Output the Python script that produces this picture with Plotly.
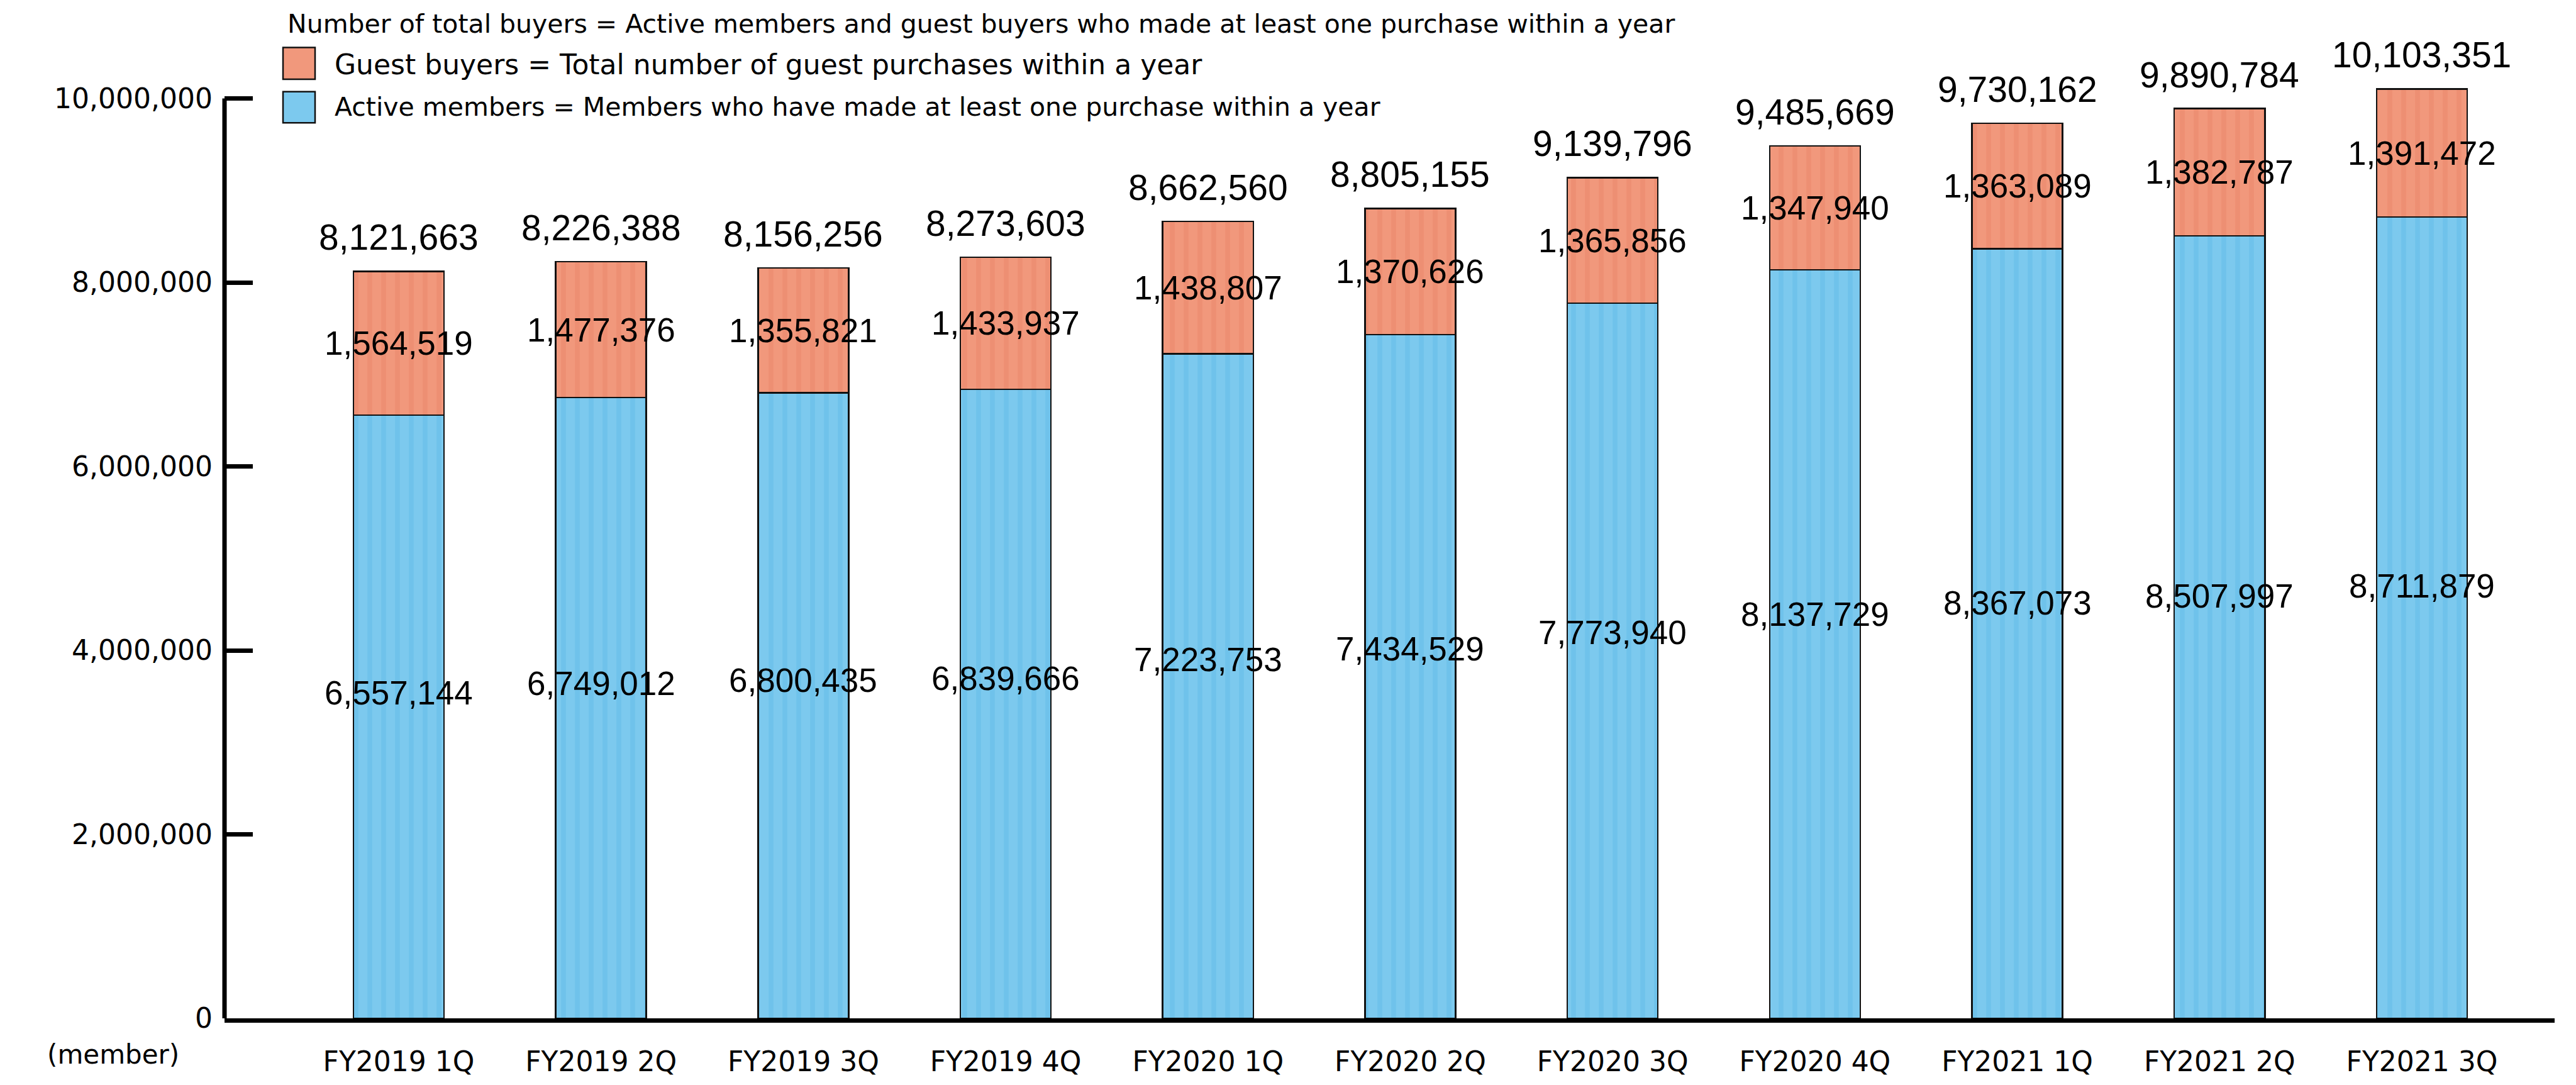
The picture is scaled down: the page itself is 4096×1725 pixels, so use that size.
import plotly.graph_objects as go

# Quarterly buyer counts (members)
quarters = [
    "FY2019 1Q", "FY2019 2Q", "FY2019 3Q", "FY2019 4Q",
    "FY2020 1Q", "FY2020 2Q", "FY2020 3Q", "FY2020 4Q",
    "FY2021 1Q", "FY2021 2Q", "FY2021 3Q",
]
active_members = [6557144, 6749012, 6800435, 6839666, 7223753, 7434529,
                  7773940, 8137729, 8367073, 8507997, 8711879]
guest_buyers = [1564519, 1477376, 1355821, 1433937, 1438807, 1370626,
                1365856, 1347940, 1363089, 1382787, 1391472]
total_buyers = [8121663, 8226388, 8156256, 8273603, 8662560, 8805155,
                9139796, 9485669, 9730162, 9890784, 10103351]
y_ticks = [0, 2000000, 4000000, 6000000, 8000000, 10000000]
axis_top = 10000000

legend_title = "Number of total buyers = Active members and guest buyers who made at least one purchase within a year"
legend_guest = "Guest buyers = Total number of guest purchases within a year"
legend_active = "Active members = Members who have made at least one purchase within a year"
unit_label = "(member)"

# Layout geometry (pixels)
W, H = 4096, 1725
M_L, M_R, M_T, M_B = 357, 34, 40, 87
PLOT_W = W - M_L - M_R
PLOT_H = H - M_T - M_B
Y_MAX = PLOT_H / 148 * 1e6  # ~148 px per million

BLUE = "#7cc9ee"
BLUE_STREAK = "#4fb3e3"
ORANGE = "#f1987c"
ORANGE_STREAK = "#e57a5c"
INK = "#111111"
NUM_FONT = "Liberation Sans, Arial, sans-serif"
TXT_FONT = "DejaVu Sans, sans-serif"


def px_x(x):
    return (x - M_L) / PLOT_W


def px_y(y):
    return (H - M_B - y) / PLOT_H


fig = go.Figure()

fig.add_trace(go.Bar(
    x=quarters, y=active_members, name="Active members",
    marker=dict(color=BLUE, line=dict(color=INK, width=2.5),
                pattern=dict(shape="|", fillmode="overlay", fgcolor=BLUE_STREAK,
                             fgopacity=0.3, size=22, solidity=0.35)),
    showlegend=False, hoverinfo="skip",
))
fig.add_trace(go.Bar(
    x=quarters, y=guest_buyers, name="Guest buyers",
    marker=dict(color=ORANGE, line=dict(color=INK, width=2.5),
                pattern=dict(shape="|", fillmode="overlay", fgcolor=ORANGE_STREAK,
                             fgopacity=0.3, size=22, solidity=0.35)),
    showlegend=False, hoverinfo="skip",
))

annotations = []
for q, a, g, t in zip(quarters, active_members, guest_buyers, total_buyers):
    # total above the stack
    annotations.append(dict(x=q, y=t, xref="x", yref="y", text=f"{t:,}",
                            showarrow=False, yanchor="bottom", yshift=20,
                            font=dict(family=NUM_FONT, size=57, color="black")))
    # guest count centred in its segment
    annotations.append(dict(x=q, y=a + g / 2, xref="x", yref="y", text=f"{g:,}",
                            showarrow=False, yanchor="middle",
                            font=dict(family=NUM_FONT, size=53, color="black")))
    # active count a little above the segment's midpoint
    annotations.append(dict(x=q, y=a * 0.54, xref="x", yref="y", text=f"{a:,}",
                            showarrow=False, yanchor="middle",
                            font=dict(family=NUM_FONT, size=53, color="black")))

# legend block
annotations.append(dict(x=px_x(455), y=px_y(38), xref="paper", yref="paper",
                        text=legend_title, showarrow=False, xanchor="left", yanchor="middle",
                        font=dict(family=TXT_FONT, size=41, color="black")))
annotations.append(dict(x=px_x(530), y=px_y(103), xref="paper", yref="paper",
                        text=legend_guest, showarrow=False, xanchor="left", yanchor="middle",
                        font=dict(family=TXT_FONT, size=44, color="black")))
annotations.append(dict(x=px_x(530), y=px_y(172), xref="paper", yref="paper",
                        text=legend_active, showarrow=False, xanchor="left", yanchor="middle",
                        font=dict(family=TXT_FONT, size=41, color="black")))
annotations.append(dict(x=px_x(180), y=px_y(1696), xref="paper", yref="paper",
                        text=unit_label, showarrow=False, xanchor="center", yanchor="middle",
                        font=dict(family=TXT_FONT, size=42, color="black")))

shapes = [
    # vertical axis from 0 up to the top tick
    dict(type="line", xref="paper", yref="y", x0=0, x1=0, y0=0, y1=axis_top,
         line=dict(color="black", width=7)),
    # legend swatches
    dict(type="rect", xref="paper", yref="paper",
         x0=px_x(450), x1=px_x(501), y0=px_y(127), y1=px_y(76),
         fillcolor=ORANGE, line=dict(color=INK, width=2.5)),
    dict(type="rect", xref="paper", yref="paper",
         x0=px_x(450), x1=px_x(501), y0=px_y(197), y1=px_y(147),
         fillcolor=BLUE, line=dict(color=INK, width=2.5)),
]

fig.update_layout(
    width=W, height=H,
    margin=dict(l=M_L, r=M_R, t=M_T, b=M_B, pad=0),
    paper_bgcolor="white", plot_bgcolor="white",
    barmode="stack", bargap=0.552,
    font=dict(family=TXT_FONT, color="black"),
    annotations=annotations, shapes=shapes,
    xaxis=dict(type="category", range=[-0.861, 10.656],
               showline=True, linewidth=7, linecolor="black",
               ticks="", showgrid=False, zeroline=False,
               tickfont=dict(family=TXT_FONT, size=44, color="black"),
               ticklabelstandoff=24),
    yaxis=dict(range=[0, Y_MAX], tickvals=y_ticks, tickformat=",",
               showline=False, showgrid=False, zeroline=False,
               ticks="inside", ticklen=45, tickwidth=7, tickcolor="black",
               tickfont=dict(family=TXT_FONT, size=44, color="black"),
               ticklabelstandoff=18),
)

fig.write_html("out.html")
